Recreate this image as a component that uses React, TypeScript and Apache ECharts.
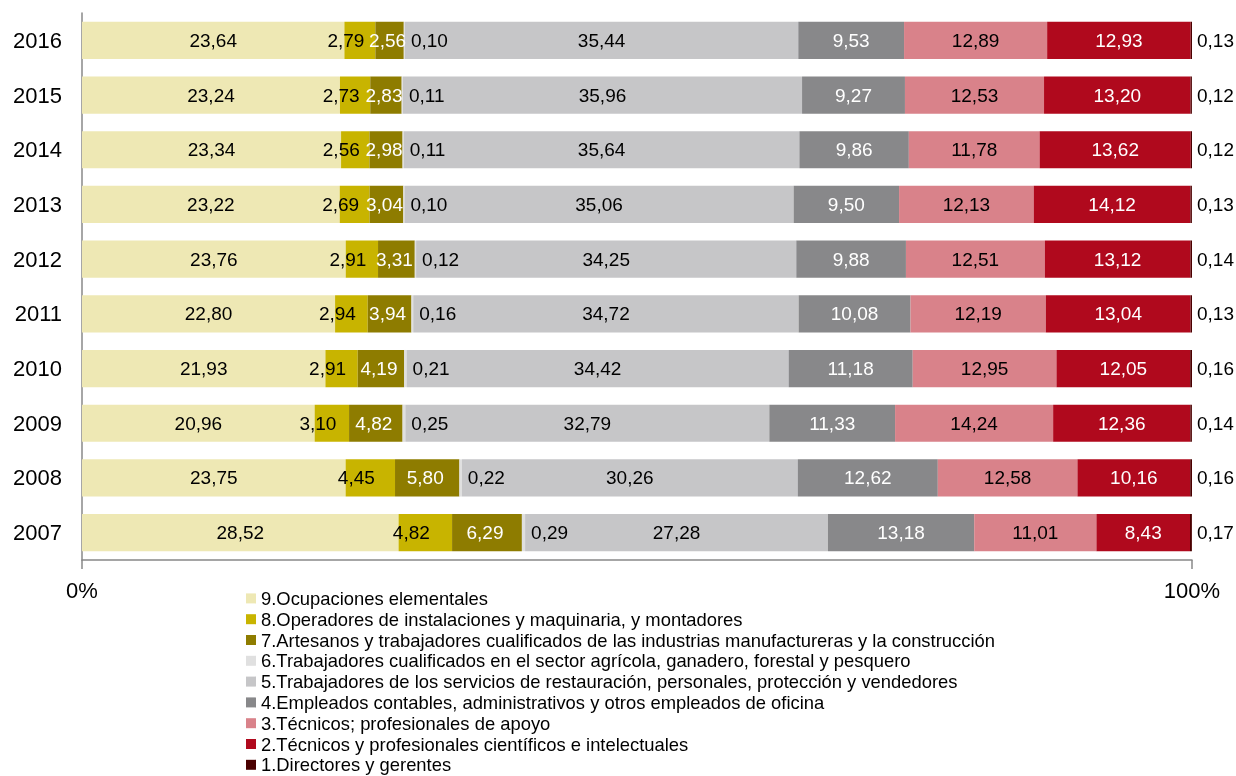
import React, { useEffect, useRef } from "react";
import * as echarts from "echarts";

const years = ["2016", "2015", "2014", "2013", "2012", "2011", "2010", "2009", "2008", "2007"];

const seriesNames = [
  "9.Ocupaciones elementales",
  "8.Operadores de instalaciones y maquinaria, y montadores",
  "7.Artesanos y trabajadores cualificados de las industrias manufactureras y la construcción",
  "6.Trabajadores cualificados en el sector agrícola, ganadero, forestal y pesquero",
  "5.Trabajadores de los servicios de restauración, personales, protección y vendedores",
  "4.Empleados contables, administrativos y otros empleados de oficina",
  "3.Técnicos; profesionales de apoyo",
  "2.Técnicos y profesionales científicos e intelectuales",
  "1.Directores y gerentes",
];

// values per series, in the order of `years` (2016 ... 2007)
const ocupacionesElementales = [23.64, 23.24, 23.34, 23.22, 23.76, 22.8, 21.93, 20.96, 23.75, 28.52];
const operadores = [2.79, 2.73, 2.56, 2.69, 2.91, 2.94, 2.91, 3.1, 4.45, 4.82];
const artesanos = [2.56, 2.83, 2.98, 3.04, 3.31, 3.94, 4.19, 4.82, 5.8, 6.29];
const agricolas = [0.1, 0.11, 0.11, 0.1, 0.12, 0.16, 0.21, 0.25, 0.22, 0.29];
const servicios = [35.44, 35.96, 35.64, 35.06, 34.25, 34.72, 34.42, 32.79, 30.26, 27.28];
const administrativos = [9.53, 9.27, 9.86, 9.5, 9.88, 10.08, 11.18, 11.33, 12.62, 13.18];
const tecnicosApoyo = [12.89, 12.53, 11.78, 12.13, 12.51, 12.19, 12.95, 14.24, 12.58, 11.01];
const cientificos = [12.93, 13.2, 13.62, 14.12, 13.12, 13.04, 12.05, 12.36, 10.16, 8.43];
const directores = [0.13, 0.12, 0.12, 0.13, 0.14, 0.13, 0.16, 0.14, 0.16, 0.17];

const seriesValues = [
  ocupacionesElementales,
  operadores,
  artesanos,
  agricolas,
  servicios,
  administrativos,
  tecnicosApoyo,
  cientificos,
  directores,
];

const colors = ["#EEE8B4", "#C8B400", "#8E7C00", "#E0E0E0", "#C6C6C8", "#88888A", "#D9828A", "#B0091D", "#4A0000"];
const labelColors = ["#000", "#000", "#fff", "#000", "#000", "#fff", "#000", "#fff", "#000"];

const FONT = "'Liberation Sans', Arial, sans-serif";

export default function App() {
  const ref = useRef<HTMLDivElement>(null);

  useEffect(() => {
    if (!ref.current) return;
    const chart = echarts.init(ref.current, undefined, { renderer: "svg" });

    const series = seriesNames.map((name, i) => {
      let label: any = {
        show: true,
        position: "inside",
        color: labelColors[i],
        fontSize: 19,
        fontFamily: FONT,
        formatter: (p: any) => Number(p.value).toFixed(2).replace(".", ","),
      };
      if (i === 1) label.offset = [-14, 0];
      if (i === 2) label.offset = [-2, 0];
      if (i === 3 || i === 8) {
        label.position = "right";
        label.distance = i === 3 ? 6 : 5;
      }
      return {
        name,
        type: "bar",
        stack: "total",
        barCategoryGap: "32%",
        data: seriesValues[i],
        itemStyle: { color: colors[i] },
        label,
        emphasis: { disabled: true },
      };
    });

    chart.setOption({
      animation: false,
      textStyle: { fontFamily: FONT },
      grid: { left: 82, top: 13, width: 1110, height: 547, containLabel: false },
      xAxis: {
        type: "value",
        min: 0,
        max: 100,
        interval: 100,
        axisLine: { show: true, lineStyle: { color: "#888", width: 1.5 } },
        axisTick: { show: true, length: 9, lineStyle: { color: "#888", width: 1.5 } },
        splitLine: { show: false },
        axisLabel: { formatter: "{value}%", fontSize: 22, color: "#000", margin: 19, fontFamily: FONT },
      },
      yAxis: {
        type: "category",
        inverse: true,
        data: years,
        axisLine: { show: true, lineStyle: { color: "#888", width: 1.5 } },
        axisTick: { show: false },
        axisLabel: { fontSize: 22, color: "#000", margin: 20, fontFamily: FONT },
      },
      legend: {
        orient: "vertical",
        left: 246,
        top: 588,
        padding: 0,
        itemWidth: 10,
        itemHeight: 10,
        itemGap: 0,
        icon: "rect",
        selectedMode: false,
        data: seriesNames,
        textStyle: { fontSize: 18.4, lineHeight: 20.8, color: "#000", fontFamily: FONT },
      },
      series,
    });

    return () => chart.dispose();
  }, []);

  return (
    <div
      ref={ref}
      style={{ position: "fixed", left: 0, top: 0, width: 1236, height: 776 }}
    />
  );
}
